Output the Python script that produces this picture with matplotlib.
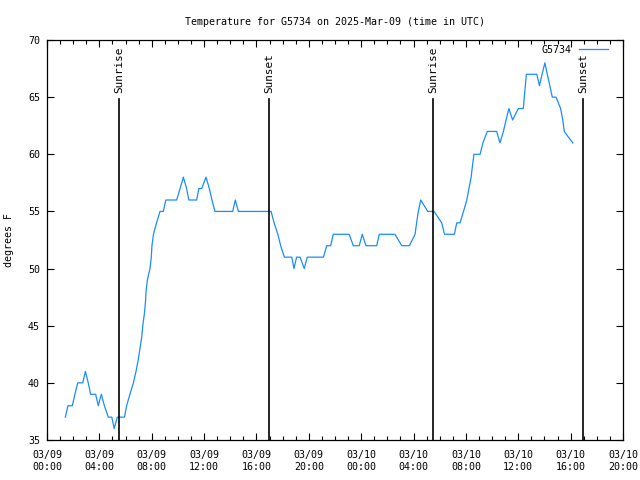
import matplotlib
matplotlib.use("Agg")
import matplotlib.pyplot as plt
import matplotlib.dates as mdates
import pandas as pd

times = [
    "03-09 01:24", "03-09 01:36", "03-09 01:56", "03-09 02:08", "03-09 02:21", "03-09 02:44",
    "03-09 02:56", "03-09 03:09", "03-09 03:20", "03-09 03:43", "03-09 03:55", "03-09 04:09",
    "03-09 04:23", "03-09 04:41", "03-09 04:57", "03-09 05:08", "03-09 05:22", "03-09 05:55",
    "03-09 06:05", "03-09 06:20", "03-09 06:36", "03-09 06:48", "03-09 06:58", "03-09 07:06",
    "03-09 07:14", "03-09 07:19", "03-09 07:26", "03-09 07:31", "03-09 07:34", "03-09 07:40",
    "03-09 07:52", "03-09 07:58", "03-09 08:01", "03-09 08:08", "03-09 08:22", "03-09 08:38",
    "03-09 08:53", "03-09 09:05", "03-09 09:54", "03-09 10:10", "03-09 10:25", "03-09 10:40",
    "03-09 10:50", "03-09 11:26", "03-09 11:36", "03-09 11:49", "03-09 12:09", "03-09 12:24",
    "03-09 12:36", "03-09 12:50", "03-09 14:11", "03-09 14:23", "03-09 14:37", "03-09 17:07",
    "03-09 17:21", "03-09 17:38", "03-09 17:51", "03-09 18:08", "03-09 18:42", "03-09 18:52",
    "03-09 19:04", "03-09 19:20", "03-09 19:39", "03-09 19:53", "03-09 21:07", "03-09 21:22",
    "03-09 21:40", "03-09 21:52", "03-09 23:05", "03-09 23:24", "03-09 23:51", "03-10 00:05",
    "03-10 00:22", "03-10 01:11", "03-10 01:23", "03-10 02:35", "03-10 03:06", "03-10 03:41",
    "03-10 04:07", "03-10 04:14", "03-10 04:22", "03-10 04:33", "03-10 05:05", "03-10 05:34",
    "03-10 06:09", "03-10 06:22", "03-10 07:07", "03-10 07:18", "03-10 07:33", "03-10 07:49",
    "03-10 08:04", "03-10 08:14", "03-10 08:24", "03-10 08:30", "03-10 08:37", "03-10 09:05",
    "03-10 09:18", "03-10 09:38", "03-10 10:21", "03-10 10:36", "03-10 10:52", "03-10 11:04",
    "03-10 11:17", "03-10 11:34", "03-10 12:00", "03-10 12:23", "03-10 12:37", "03-10 13:25",
    "03-10 13:37", "03-10 13:49", "03-10 14:02", "03-10 14:13", "03-10 14:36", "03-10 14:53",
    "03-10 15:14", "03-10 15:24", "03-10 15:31", "03-10 15:42", "03-10 16:10",
]
temps = [
    37, 38, 38, 39, 40, 40,
    41, 40, 39, 39, 38, 39,
    38, 37, 37, 36, 37, 37,
    38, 39, 40, 41, 42, 43,
    44, 45, 46, 47, 48, 49,
    50, 51, 52, 53, 54, 55,
    55, 56, 56, 57, 58, 57,
    56, 56, 57, 57, 58, 57,
    56, 55, 55, 56, 55, 55,
    54, 53, 52, 51, 51, 50,
    51, 51, 50, 51, 51, 52,
    52, 53, 53, 52, 52, 53,
    52, 52, 53, 53, 52, 52,
    53, 54, 55, 56, 55, 55,
    54, 53, 53, 54, 54, 55,
    56, 57, 58, 59, 60, 60,
    61, 62, 62, 61, 62, 63,
    64, 63, 64, 64, 67, 67,
    66, 67, 68, 67, 65, 65,
    64, 63, 62, 61.7, 61,
]
sun_labels = ["Sunrise", "Sunset", "Sunrise", "Sunset"]
sun_times = ["03-09 05:30", "03-09 16:58", "03-10 05:29", "03-10 16:57"]
series_name = "G5734"
title = "Temperature for G5734 on 2025-Mar-09 (time in UTC)"

x = pd.to_datetime(["2025-" + t for t in times])
sx = pd.to_datetime(["2025-" + t for t in sun_times])

FONT = "DejaVu Sans Mono"
FS = 7.2
plt.rcParams["font.family"] = FONT

fig = plt.figure(figsize=(6.4, 4.8), dpi=100)
ax = fig.add_axes([47 / 640, 1 - 440 / 480, 576 / 640, 400 / 480])

ax.plot(x, temps, color="#1a8cff", lw=0.9, label=series_name)

for lab, t in zip(sun_labels, sx):
    ax.plot([t, t], [35, 64.85], color="black", lw=1.2)
    ax.text(t, 65.35, lab, rotation=90, ha="center", va="bottom", fontsize=7.9)

ax.set_xlim(pd.Timestamp("2025-03-09 00:00"), pd.Timestamp("2025-03-10 20:00"))
ax.set_ylim(35, 70)
ax.set_yticks(range(35, 71, 5))
ax.xaxis.set_major_locator(mdates.HourLocator(byhour=range(0, 24, 4)))
ax.xaxis.set_minor_locator(mdates.HourLocator(byhour=range(0, 24, 1)))
ax.xaxis.set_major_formatter(mdates.DateFormatter("%m/%d\n%H:%M"))
ax.tick_params(axis="both", which="both", direction="in", top=True, right=True,
               labelsize=FS)
ax.tick_params(axis="x", which="major", pad=7)
ax.tick_params(axis="y", which="major", pad=5)
ax.tick_params(axis="both", which="major", length=5, width=0.8)
ax.tick_params(axis="both", which="minor", length=3, width=0.8)
for lbl in ax.get_xticklabels():
    lbl.set_linespacing(1.3)
for s in ax.spines.values():
    s.set_linewidth(0.9)

ax.set_ylabel("degrees F", fontsize=FS, labelpad=10)
ax.set_title(title, fontsize=FS, pad=11)

leg = ax.legend(loc="upper right", frameon=False, fontsize=FS, handlelength=2.9,
                markerfirst=False, borderaxespad=0.0, handletextpad=0.7,
                bbox_to_anchor=(1 - 11 / 576, 1 - 1 / 400))

fig.savefig("out.png", dpi=100)
